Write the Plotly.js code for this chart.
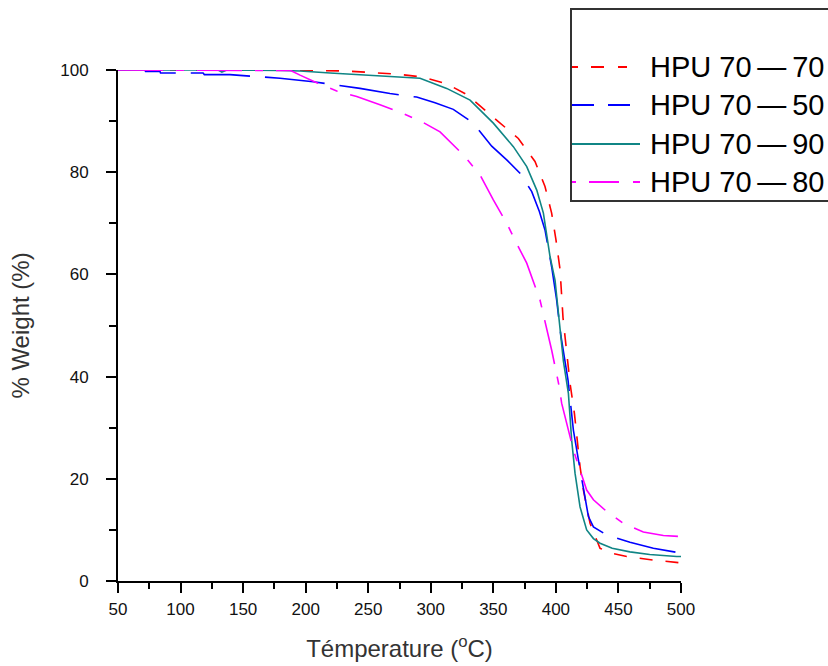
<!DOCTYPE html>
<html>
<head>
<meta charset="utf-8">
<script src="https://cdn.plot.ly/plotly-3.0.1.min.js"></script>
<style>html,body{margin:0;padding:0;background:#fff;}#chart{width:828px;height:666px;}</style>
</head>
<body>
<div id="chart"></div>
<script>
// ---- data ----
const seriesNames = ["HPU 70\u2009\u2014\u200970", "HPU 70\u2009\u2014\u200950", "HPU 70\u2009\u2014\u200990", "HPU 70\u2009\u2014\u200980"];

const tempHPU7070 = [50, 100, 150, 190, 232.8, 251.4, 272.8, 294, 312.7, 328.7, 342, 354, 370, 383.3, 391.3, 396.6, 400.1, 403.3, 405.7, 408.5, 411.3, 414.8, 416.8, 419.3, 422, 427.3, 435.3, 445, 456.6, 477.9, 497.9];
const wtHPU7070   = [100, 100, 100, 100, 99.8, 99.5, 99.2, 98.6, 97.3, 95.2, 92.5, 89.9, 86.6, 82.1, 77.2, 72, 66.7, 61, 51.5, 45, 38.7, 32.8, 27.6, 22.4, 17.8, 11.3, 6.4, 5.4, 4.8, 4.1, 3.6];

const tempHPU7050 = [50, 71.6, 72, 83.6, 84, 118, 119, 139.5, 150, 163.5, 179.5, 206, 228.8, 243.4, 267.4, 288.7, 303.4, 318, 334, 348.7, 360.7, 371.3, 380.7, 386.8, 391.3, 396.6, 400.6, 404, 409.7, 414, 418, 422, 426, 430, 440.6, 459.2, 477.9, 499.2];
const wtHPU7050   = [100, 100, 99.7, 99.7, 99.4, 99.4, 99.1, 99.1, 98.9, 98.7, 98.4, 97.7, 96.9, 96.4, 95.4, 94.7, 93.6, 92.3, 89.6, 85.1, 82.4, 79.8, 76.2, 72.3, 68.7, 61.5, 55.0, 48, 39.3, 29.5, 23.7, 17.8, 12.6, 10.6, 9.0, 7.6, 6.4, 5.5];

const tempHPU7090 = [50, 100, 130, 133, 137, 180, 195.5, 219.5, 259.4, 291.4, 312.7, 331.4, 350, 366, 376.7, 384.7, 390, 395.3, 399.3, 402.7, 406, 410, 412.6, 415.3, 419.3, 424.6, 430, 435.3, 445, 459.2, 475, 496.6, 500];
const wtHPU7090   = [100, 100, 100, 99.6, 100, 99.9, 99.8, 99.4, 98.9, 98.4, 96.4, 94.1, 89.6, 85.0, 81.1, 76.5, 72.0, 63.5, 58.9, 50.5, 43, 36.7, 27.6, 21.1, 14.5, 10.0, 8.3, 7.4, 6.4, 5.7, 5.2, 4.8, 4.8];

const tempHPU7080 = [50, 100, 150, 180, 188, 195.5, 208.8, 224.8, 240.8, 259.4, 276.8, 292.7, 307.4, 326, 339.3, 350, 360.7, 367.3, 376.7, 387.3, 396.6, 402.7, 404.6, 408.6, 414, 419.3, 424.6, 430, 440.6, 453.9, 469.9, 485.9, 499.2];
const wtHPU7080   = [100, 100, 100, 100, 99.9, 99, 97.5, 95.9, 94.8, 93.2, 91.6, 89.9, 87.9, 83.4, 79.5, 74.6, 70, 66.7, 62.2, 55, 45.2, 38, 34.8, 30.9, 25.6, 21.7, 17.8, 15.9, 13.6, 11.3, 9.6, 8.9, 8.7];

const xTickVals = [50, 100, 150, 200, 250, 300, 350, 400, 450, 500];
const xMinorVals = [75, 125, 175, 225, 275, 325, 375, 425, 475];
const yTickVals = [0, 20, 40, 60, 80, 100];
const yMinorVals = [10, 30, 50, 70, 90];

// ---- styles ----
const temps = [tempHPU7070, tempHPU7050, tempHPU7090, tempHPU7080];
const wts = [wtHPU7070, wtHPU7050, wtHPU7090, wtHPU7080];
const colors = ["#ff0000", "#0000ff", "#108585", "#ff00ff"];
const plotDash = ["13px,13px", "60px,15px", "solid", "45px,13px,8px,13px"];
const legDash = ["6px,13px,13px,14px,10px", "22px,14px,23px", "solid", "4px,13px,30px,14px,8px"];
const legEnd = [627, 630, 640, 640];
const legRowY = [67, 105, 144, 182];

// pixel -> paper helpers for legend decoration (plot area 118..681 x 70..581)
const px = p => (p - 118) / 563;
const py = p => (581 - p) / 511;

const traces = seriesNames.map((n, i) => ({
  x: temps[i], y: wts[i], name: n, type: "scatter", mode: "lines",
  line: {color: colors[i], width: 1.6, dash: plotDash[i], shape: "linear"},
  showlegend: false, hoverinfo: "skip"
}));

const shapes = [{
  type: "rect", xref: "paper", yref: "paper",
  x0: px(571), x1: px(845), y0: py(201), y1: py(9),
  line: {color: "#333", width: 2}, fillcolor: "rgba(0,0,0,0)", layer: "above"
}];
const annotations = [];
seriesNames.forEach((n, i) => {
  shapes.push({type: "line", xref: "paper", yref: "paper",
    x0: px(572), x1: px(legEnd[i]), y0: py(legRowY[i]), y1: py(legRowY[i]),
    line: {color: colors[i], width: 1.8, dash: legDash[i]}});
  annotations.push({xref: "paper", yref: "paper", x: px(648), y: py(legRowY[i]),
    xanchor: "left", yanchor: "middle", showarrow: false, text: n,
    font: {family: "Liberation Sans, Arial, sans-serif", size: 29, color: "#000"}});
});

const tickFont = {family: "Liberation Sans, Arial, sans-serif", size: 17, color: "#111"};

const layout = {
  width: 828, height: 666,
  margin: {l: 118, r: 147, t: 70, b: 85, pad: 0},
  paper_bgcolor: "#fff", plot_bgcolor: "#fff",
  showlegend: false,
  xaxis: {
    range: [50, 500], tickmode: "array", tickvals: xTickVals,
    showgrid: false, zeroline: false, showline: true, linecolor: "#000", linewidth: 2,
    ticks: "outside", ticklen: 10, tickwidth: 2, tickcolor: "#000",
    minor: {tickmode: "array", tickvals: xMinorVals, ticks: "outside", ticklen: 6, tickwidth: 2, tickcolor: "#000"},
    tickfont: tickFont, ticklabelstandoff: 2,
    title: {text: "Témperature (<sup>o</sup>C)", font: {family: "Liberation Sans, Arial, sans-serif", size: 24, color: "#333"}, standoff: 22},
    automargin: false, fixedrange: true
  },
  yaxis: {
    range: [0, 100], tickmode: "array", tickvals: yTickVals,
    showgrid: false, zeroline: false, showline: true, linecolor: "#000", linewidth: 2,
    ticks: "outside", ticklen: 10, tickwidth: 2, tickcolor: "#000",
    minor: {tickmode: "array", tickvals: yMinorVals, ticks: "outside", ticklen: 7, tickwidth: 2, tickcolor: "#000"},
    tickfont: tickFont, ticklabelstandoff: 14,
    title: {text: "% Weight (%)", font: {family: "Liberation Sans, Arial, sans-serif", size: 24, color: "#333"}, standoff: 24},
    automargin: false, fixedrange: true
  },
  shapes: shapes,
  annotations: annotations
};

Plotly.newPlot("chart", traces, layout, {displayModeBar: false, staticPlot: true});
</script>
</body>
</html>
